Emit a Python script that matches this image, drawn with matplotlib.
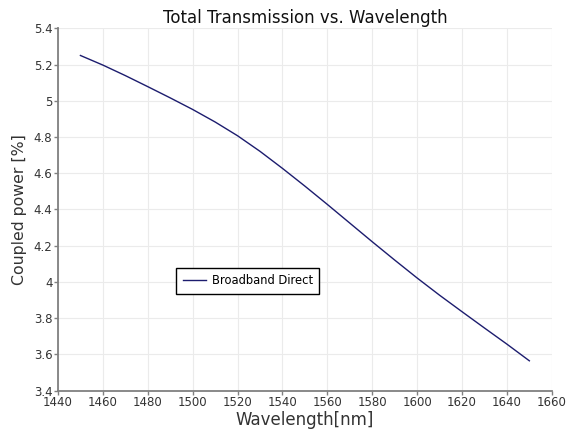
import matplotlib
matplotlib.use("Agg")
import matplotlib.pyplot as plt
import numpy as np

wavelength = [1450, 1460, 1470, 1480, 1490, 1500, 1510, 1520, 1530, 1540, 1550,
              1560, 1570, 1580, 1590, 1600, 1610, 1620, 1630, 1640, 1650]
power = [5.25, 5.197, 5.139, 5.078, 5.016, 4.952, 4.883, 4.807, 4.721, 4.627, 4.529,
         4.428, 4.325, 4.222, 4.121, 4.022, 3.927, 3.836, 3.746, 3.657, 3.565]
xticks = [1440, 1460, 1480, 1500, 1520, 1540, 1560, 1580, 1600, 1620, 1640, 1660]
yticks = [3.4, 3.6, 3.8, 4.0, 4.2, 4.4, 4.6, 4.8, 5.0, 5.2, 5.4]
ylabels = ["3.4", "3.6", "3.8", "4", "4.2", "4.4", "4.6", "4.8", "5", "5.2", "5.4"]

fig = plt.figure(figsize=(5.73, 4.32), dpi=100)
ax = fig.add_axes([0.1012, 0.0956, 0.8618, 0.8389])
ax.plot(wavelength, power, color="#1c1c6e", lw=1.0, label="Broadband Direct")
ax.set_xlim(1440, 1660)
ax.set_ylim(3.4, 5.4)
ax.set_xticks(xticks)
ax.set_yticks(yticks)
ax.set_yticklabels(ylabels)
ax.grid(True, color="#ebebeb", lw=0.8)
ax.set_axisbelow(True)
for s in ["top", "right"]:
    ax.spines[s].set_visible(False)
for s in ["left", "bottom"]:
    ax.spines[s].set_color("#808080")
    ax.spines[s].set_linewidth(1.3)
ax.tick_params(axis="both", direction="out", length=3, width=1, color="#808080",
               labelsize=8.5, labelcolor="#333333", pad=1)
ax.set_xlabel("Wavelength[nm]", fontsize=12, color="#333333", labelpad=1)
ax.set_ylabel("Coupled power [%]", fontsize=11.3, color="#333333", labelpad=5)
ax.set_title("Total Transmission vs. Wavelength", fontsize=12, color="#111111", pad=4)
leg = ax.legend(loc="lower left", bbox_to_anchor=(0.228, 0.252), fontsize=8.3,
                fancybox=False, framealpha=1, edgecolor="black", handlelength=2.0,
                borderpad=0.55, handletextpad=0.5)
leg.get_frame().set_linewidth(1.0)
fig.savefig("out.png", dpi=100)
